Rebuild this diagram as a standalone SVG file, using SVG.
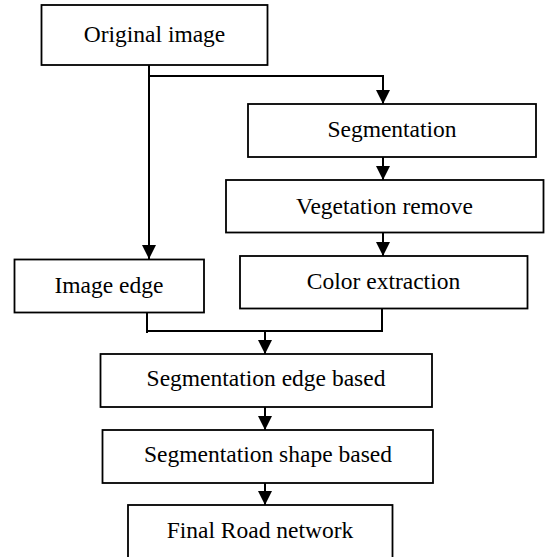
<svg xmlns="http://www.w3.org/2000/svg" width="546" height="557" viewBox="0 0 546 557">
  <style>
    .box { fill: #ffffff; stroke: #000000; stroke-width: 1.8; }
    .lbl { font-family: "Liberation Serif", "Times New Roman", serif; font-size: 23.5px; fill: #000000; text-anchor: middle; }
    .conn { fill: none; stroke: #000000; stroke-width: 2; }
  </style>
  <defs>
    <marker id="arrow" markerUnits="userSpaceOnUse" markerWidth="14" markerHeight="14" refX="14" refY="7" orient="auto">
      <path d="M0,0 L14,7 L0,14 z" fill="#000000"/>
    </marker>
  </defs>
  <rect width="546" height="557" fill="#ffffff"/>

  <g id="connectors">
    <path class="conn" d="M149,65 V259" marker-end="url(#arrow)"/>
    <path class="conn" d="M149,76 H383 V104" marker-end="url(#arrow)"/>
    <path class="conn" d="M383,157 V180" marker-end="url(#arrow)"/>
    <path class="conn" d="M383,232 V256" marker-end="url(#arrow)"/>
    <path class="conn" d="M147,312 V333 M147,331 H382 V306"/>
    <path class="conn" d="M265,331 V354" marker-end="url(#arrow)"/>
    <path class="conn" d="M265,407 V430" marker-end="url(#arrow)"/>
    <path class="conn" d="M265,483 V505" marker-end="url(#arrow)"/>
  </g>

  <g id="original-image">
    <rect class="box" x="41.5" y="5" width="226" height="60"/>
    <text class="lbl" x="154.5" y="42">Original image</text>
  </g>
  <g id="segmentation">
    <rect class="box" x="248" y="104" width="288" height="53"/>
    <text class="lbl" x="392" y="137">Segmentation</text>
  </g>
  <g id="vegetation-remove">
    <rect class="box" x="226" y="180" width="317.5" height="52.5"/>
    <text class="lbl" x="384.5" y="213.5">Vegetation remove</text>
  </g>
  <g id="color-extraction">
    <rect class="box" x="240" y="256" width="287.5" height="52.5"/>
    <text class="lbl" x="383.5" y="288.5">Color extraction</text>
  </g>
  <g id="image-edge">
    <rect class="box" x="14.5" y="259.5" width="189.5" height="53"/>
    <text class="lbl" x="109" y="293">Image edge</text>
  </g>
  <g id="segmentation-edge-based">
    <rect class="box" x="100.5" y="354" width="331.5" height="53"/>
    <text class="lbl" x="266" y="385.5">Segmentation edge based</text>
  </g>
  <g id="segmentation-shape-based">
    <rect class="box" x="102.5" y="430" width="330.5" height="53"/>
    <text class="lbl" x="268" y="462">Segmentation shape based</text>
  </g>
  <g id="final-road-network">
    <rect class="box" x="128" y="505" width="264.5" height="70"/>
    <text class="lbl" x="260" y="538">Final Road network</text>
  </g>
</svg>
